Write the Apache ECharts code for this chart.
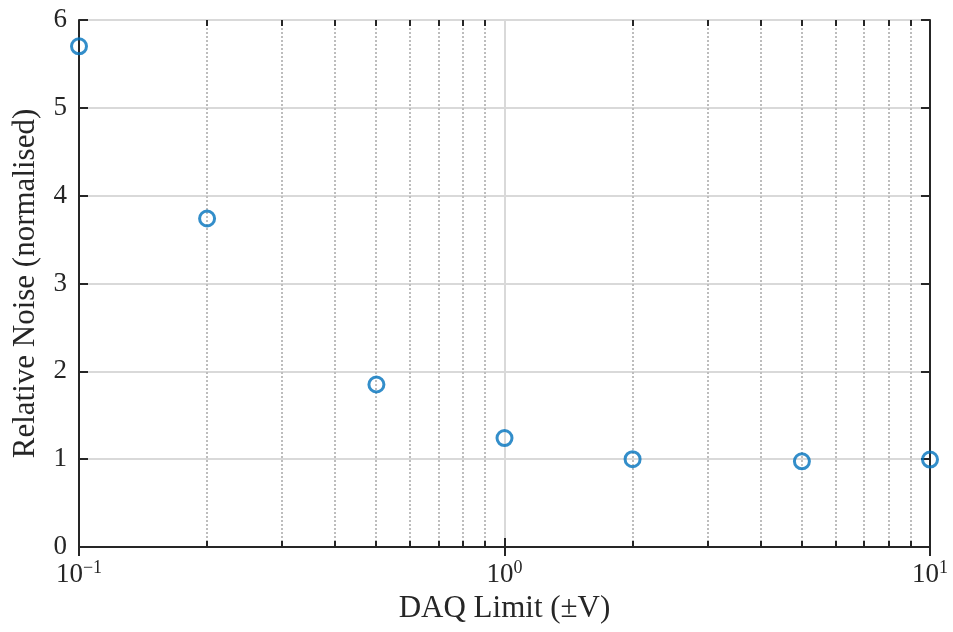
<!DOCTYPE html>
<html>
<head>
<meta charset="utf-8">
<script src="https://cdn.jsdelivr.net/npm/echarts@6/dist/echarts.min.js"></script>
<style>
  html, body { margin: 0; padding: 0; background: #fff; }
  #chart { width: 953px; height: 632px; }
</style>
</head>
<body>
<div id="chart"></div>
<script>
// DAQ input range (±V) and the measured noise relative to the ±1 V baseline
const daqLimits = [0.1, 0.2, 0.5, 1, 2, 5, 10];
const relativeNoise = [5.70, 3.74, 1.85, 1.24, 1.00, 0.975, 0.995];

// Log-axis minor positions (2..9 within each decade)
const minorTicks = [0.2, 0.3, 0.4, 0.5, 0.6, 0.7, 0.8, 0.9, 2, 3, 4, 5, 6, 7, 8, 9];

const FONT = 'Liberation Serif';
const INK = '#262626';

const chart = echarts.init(document.getElementById('chart'), null, { renderer: 'canvas' });

const expLabel = function (v) {
  const e = Math.round(Math.log10(v));
  const s = e < 0 ? '\u2212' + (-e) : String(e);
  return '{b|10}{s|' + s + '}';
};

const baseAxisLine = { show: true, lineStyle: { color: INK, width: 2 } };

chart.setOption({
  animation: false,
  backgroundColor: '#ffffff',
  grid: { left: 79, right: 23, top: 20, bottom: 85, containLabel: false },
  xAxis: [
    {
      type: 'log', logBase: 10, min: 0.1, max: 10,
      position: 'bottom',
      name: 'DAQ Limit (\u00B1V)', nameLocation: 'middle', nameGap: 42,
      nameTextStyle: { fontFamily: FONT, fontSize: 31, color: INK },
      axisLine: baseAxisLine,
      axisTick: { show: true, inside: true, length: 9, lineStyle: { color: INK, width: 2 } },
      axisLabel: {
        margin: 12,
        formatter: expLabel,
        rich: {
          b: { fontFamily: FONT, fontSize: 27, color: INK },
          s: { fontFamily: FONT, fontSize: 18, color: INK, verticalAlign: 'bottom', padding: [0, 0, 14, 0] }
        }
      },
      splitLine: { show: true, lineStyle: { color: '#d9d9d9', width: 2 } }
    },
    {
      type: 'log', logBase: 10, min: 0.1, max: 10,
      position: 'top',
      axisLine: baseAxisLine,
      axisTick: { show: true, inside: true, length: 9, lineStyle: { color: INK, width: 2 } },
      axisLabel: { show: false },
      splitLine: { show: false }
    }
  ],
  yAxis: [
    {
      type: 'value', min: 0, max: 6, interval: 1,
      position: 'left',
      name: 'Relative Noise (normalised)', nameLocation: 'middle', nameGap: 38,
      nameRotate: 90,
      nameTextStyle: { fontFamily: FONT, fontSize: 31, color: INK },
      axisLine: baseAxisLine,
      axisTick: { show: true, inside: true, length: 9, lineStyle: { color: INK, width: 2 } },
      axisLabel: { margin: 12, fontFamily: FONT, fontSize: 27, color: INK },
      splitLine: { show: true, lineStyle: { color: '#d9d9d9', width: 2 } }
    },
    {
      type: 'value', min: 0, max: 6, interval: 1,
      position: 'right',
      axisLine: baseAxisLine,
      axisTick: { show: true, inside: true, length: 9, lineStyle: { color: INK, width: 2 } },
      axisLabel: { show: false },
      splitLine: { show: false }
    }
  ],
  series: [
    {
      // dotted minor grid with short inward ticks on the bottom and top edges
      type: 'custom',
      xAxisIndex: 0, yAxisIndex: 0,
      z: 1,
      silent: true,
      data: minorTicks.map(function (v) { return [v]; }),
      renderItem: function (params, api) {
        const cs = params.coordSys;
        const x = Math.round(api.coord([api.value(0), 0])[0]);
        const top = cs.y, bottom = cs.y + cs.height;
        return {
          type: 'group',
          children: [
            {
              type: 'line',
              shape: { x1: x, y1: top, x2: x, y2: bottom },
              style: { stroke: '#bdbdbd', lineWidth: 2, lineDash: [2, 2] }
            },
            {
              type: 'line',
              shape: { x1: x, y1: bottom, x2: x, y2: bottom - 6 },
              style: { stroke: INK, lineWidth: 2 }
            },
            {
              type: 'line',
              shape: { x1: x, y1: top, x2: x, y2: top + 6 },
              style: { stroke: INK, lineWidth: 2 }
            }
          ]
        };
      }
    },
    {
      type: 'scatter',
      xAxisIndex: 0, yAxisIndex: 0,
      z: 5,
      data: daqLimits.map(function (x, i) { return [x, relativeNoise[i]]; }),
      symbol: 'circle',
      symbolSize: 15,
      itemStyle: { color: 'rgba(0,0,0,0)', borderColor: '#0072BD', borderWidth: 3 }
    }
  ]
});
</script>
</body>
</html>
